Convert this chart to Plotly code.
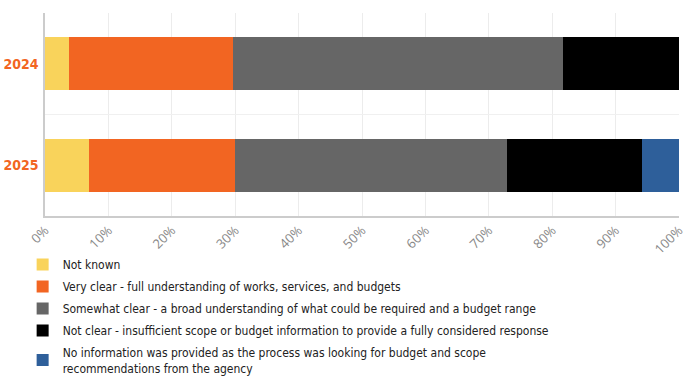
import plotly.graph_objects as go

# Survey years (rows) and response shares in percent
years = ["2024", "2025"]
series_names = [
    "Not known",
    "Very clear - full understanding of works, services, and budgets",
    "Somewhat clear - a broad understanding of what could be required and a budget range",
    "Not clear - insufficient scope or budget information to provide a fully considered response",
    "No information was provided as the process was looking for budget and scope<br>recommendations from the agency",
]
not_known = [3.8, 7.0]
very_clear = [25.9, 23.0]
somewhat_clear = [52.0, 42.8]
not_clear = [18.3, 21.4]
no_info = [0.0, 5.8]
series_values = [not_known, very_clear, somewhat_clear, not_clear, no_info]
series_colors = ["#f9d35b", "#f26522", "#666666", "#000000", "#2e5f9a"]
tick_values = [0, 10, 20, 30, 40, 50, 60, 70, 80, 90, 100]
tick_labels = [f"{v}%" for v in tick_values]

fig = go.Figure()
for i, (name, vals, color) in enumerate(zip(series_names, series_values, series_colors)):
    fig.add_trace(go.Bar(
        y=years,
        x=vals,
        name=name,
        legendgroup=f"g{i}",
        orientation="h",
        width=0.52,
        marker=dict(color=color, line=dict(width=0)),
    ))

fig.update_layout(
    barmode="stack",
    width=686,
    height=381,
    margin=dict(l=45, r=7, t=13, b=165, autoexpand=False),
    paper_bgcolor="white",
    plot_bgcolor="white",
    showlegend=True,
    legend=dict(
        orientation="v",
        traceorder="grouped",
        xref="container",
        yref="container",
        x=0.033,
        xanchor="left",
        y=0.344,
        yanchor="top",
        font=dict(family="DejaVu Sans Condensed, Roboto, sans-serif", size=12, color="#222222"),
        tracegroupgap=3,
        itemwidth=30,
    ),
    xaxis=dict(
        range=[0, 100],
        tickvals=tick_values,
        ticktext=tick_labels,
        tickangle=-45,
        ticklabeloverflow="allow",
        automargin=False,
        showgrid=True,
        gridcolor="#ececec",
        gridwidth=1,
        showline=True,
        linecolor="#cccccc",
        linewidth=1.5,
        zeroline=False,
        ticks="",
        tickfont=dict(family="Open Sans", size=13, color="#888888"),
    ),
    yaxis=dict(
        categoryorder="array",
        categoryarray=years,
        autorange="reversed",
        automargin=False,
        tickson="boundaries",
        showgrid=True,
        gridcolor="#f0f0f0",
        showline=True,
        linecolor="#cccccc",
        linewidth=1.5,
        ticks="",
        ticklabelstandoff=2,
        tickfont=dict(family="DejaVu Sans Condensed, Roboto, sans-serif", size=14,
                      color="#f26522", weight="bold"),
    ),
)

fig.write_html("out.html")
